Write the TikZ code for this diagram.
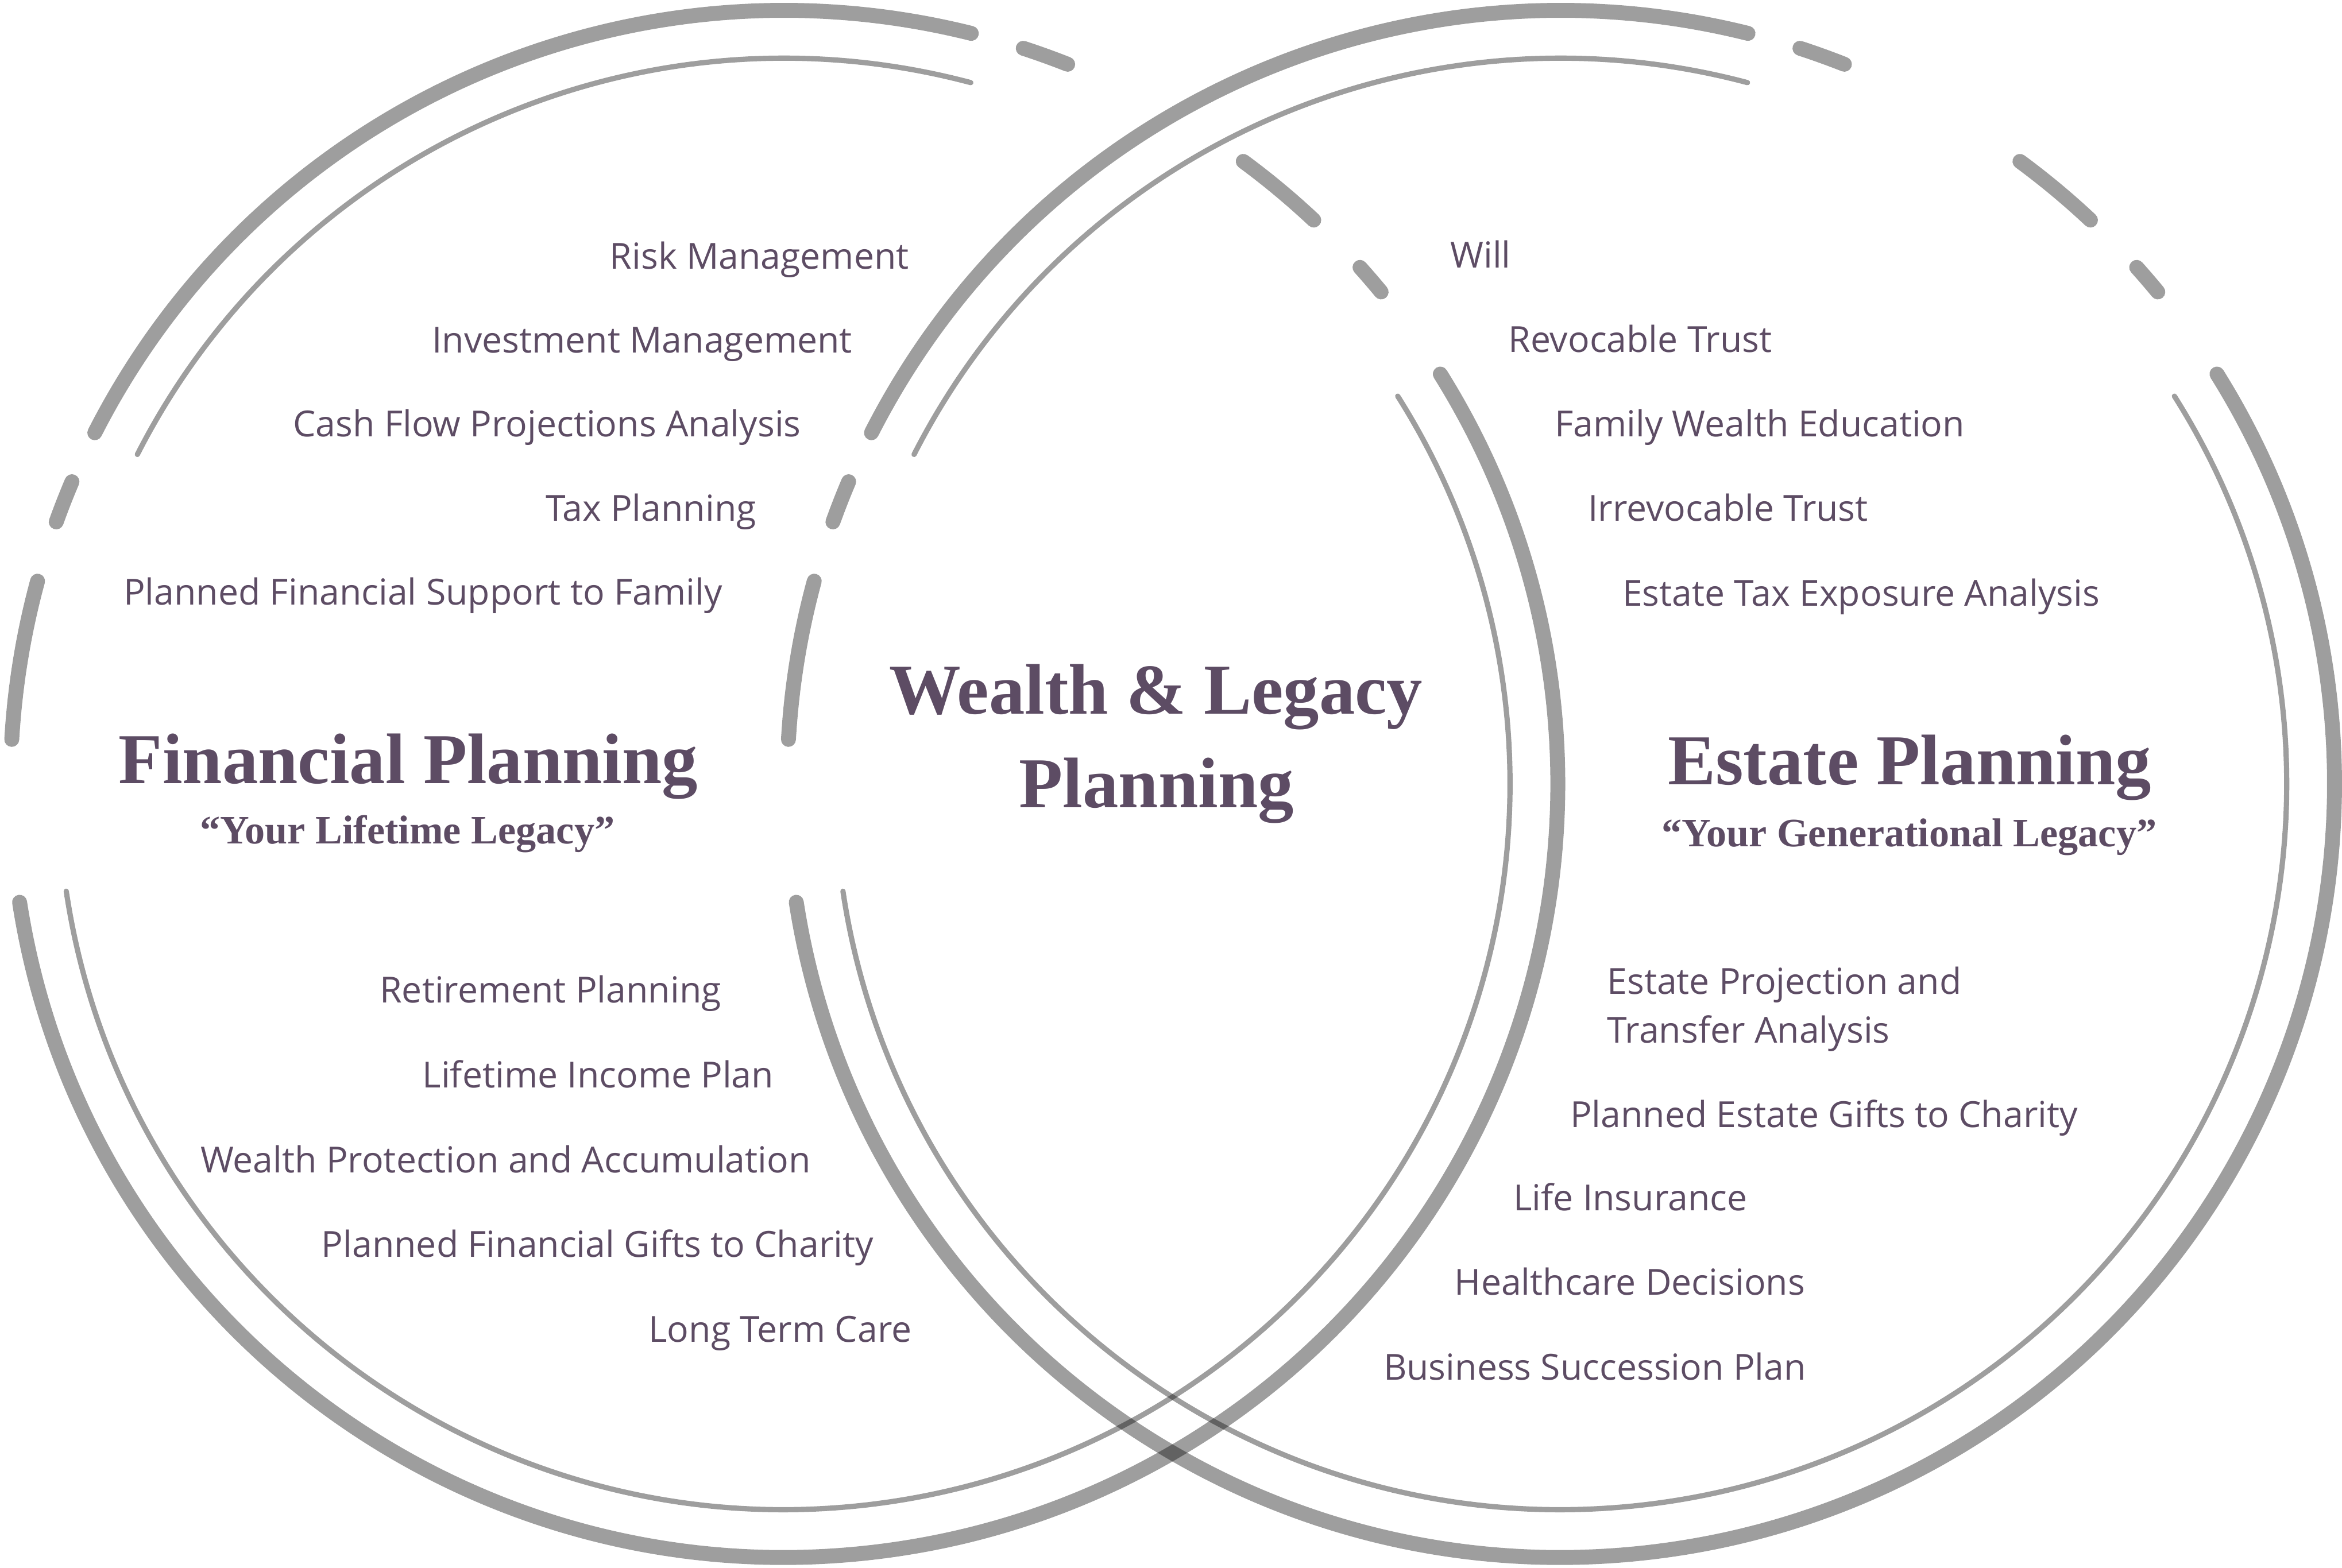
\documentclass[tikz,border=0pt]{standalone}
\usepackage{fontspec}
\setmainfont{Open Sans}
\newfontfamily\headfont{Liberation Serif}
\usetikzlibrary{positioning}
\definecolor{plum}{HTML}{5D4C64}

\begin{document}
\begin{tikzpicture}[x=0.025cm, y=0.025cm,
  heavyring/.style={line width=7.1pt, line cap=round, draw opacity=0.38},
  lightring/.style={line width=2.5pt, line cap=round, draw opacity=0.38},
  item/.style={anchor=base west, inner sep=0pt, text=plum, font=\fontsize{17.1}{23.2}\selectfont},
  heading/.style={anchor=base, inner sep=0pt, text=plum, font=\headfont\bfseries\fontsize{34.1}{40}\selectfont},
  motto/.style={anchor=base, inner sep=0pt, text=plum, font=\headfont\bfseries\fontsize{19.2}{22}\selectfont}]
\useasboundingbox (0,0) rectangle (1568,1050);
\begin{scope}[shift={(525,525)}]
\draw[heavyring] (76:518) arc[start angle=76, end angle=153, radius=518];
\draw[heavyring] (68.5:518) arc[start angle=68.5, end angle=72, radius=518];
\draw[heavyring] (157:518) arc[start angle=157, end angle=160.2, radius=518];
\draw[heavyring] (164.8:518) arc[start angle=164.8, end angle=176.7, radius=518];
\draw[heavyring] (188.8:518) arc[start angle=188.8, end angle=392, radius=518];
\draw[heavyring] (39.5:518) arc[start angle=39.5, end angle=41.9, radius=518];
\draw[heavyring] (46.8:518) arc[start angle=46.8, end angle=53.6, radius=518];
\draw[lightring] (75.1:486) arc[start angle=75.1, end angle=153, radius=486];
\draw[lightring] (188.5:486) arc[start angle=188.5, end angle=392.3, radius=486];
\end{scope}
\begin{scope}[shift={(1045,525)}]
\draw[heavyring] (76:518) arc[start angle=76, end angle=153, radius=518];
\draw[heavyring] (68.5:518) arc[start angle=68.5, end angle=72, radius=518];
\draw[heavyring] (157:518) arc[start angle=157, end angle=160.2, radius=518];
\draw[heavyring] (164.8:518) arc[start angle=164.8, end angle=176.7, radius=518];
\draw[heavyring] (188.8:518) arc[start angle=188.8, end angle=392, radius=518];
\draw[heavyring] (39.5:518) arc[start angle=39.5, end angle=41.9, radius=518];
\draw[heavyring] (46.8:518) arc[start angle=46.8, end angle=53.6, radius=518];
\draw[lightring] (75.1:486) arc[start angle=75.1, end angle=153, radius=486];
\draw[lightring] (188.5:486) arc[start angle=188.5, end angle=392.3, radius=486];
\end{scope}
\node[item] (risk) at (408,870) {Risk Management};
\node[item] (invest) at (289,813.7) {Investment Management};
\node[item] (cashflow) at (196,757.4) {Cash Flow Projections Analysis};
\node[item] (tax) at (365,701) {Tax Planning};
\node[item] (support) at (82.5,645) {Planned Financial Support to Family};
\node[item] (retire) at (254,378.4) {Retirement Planning};
\node[item] (income) at (282.6,321.4) {Lifetime Income Plan};
\node[item] (protect) at (134,264.6) {Wealth Protection and Accumulation};
\node[item] (fingifts) at (215,208.2) {Planned Financial Gifts to Charity};
\node[item] (care) at (434,151.1) {Long Term Care};
\node[item] (will) at (970.7,870.8) {Will};
\node[item] (revtrust) at (1009.6,814.1) {Revocable Trust};
\node[item] (education) at (1040.7,757.4) {Family Wealth Education};
\node[item] (irrtrust) at (1063,701) {Irrevocable Trust};
\node[item] (taxexp) at (1086,644.1) {Estate Tax Exposure Analysis};
\node[item, align=left] (projection) at (1075.7,351.7) {Estate Projection and\\Transfer Analysis};
\node[item] (estgifts) at (1051,295.2) {Planned Estate Gifts to Charity};
\node[item] (life) at (1013,239.1) {Life Insurance};
\node[item] (health) at (973.6,182.7) {Healthcare Decisions};
\node[item] (succession) at (926,125.7) {Business Succession Plan};
\node[heading] (financial) at (273.4,525.4) {Financial Planning};
\node[motto] (lifetime) at (272.8,485) {“Your Lifetime Legacy”};
\node[heading] (wealth) at (774,572) {Wealth \& Legacy};
\node[heading] (planning) at (774.3,509.2) {Planning};
\node[heading] (estate) at (1278.5,524.6) {Estate Planning};
\node[motto] (generational) at (1278.2,483) {“Your Generational Legacy”};
\end{tikzpicture}
\end{document}
